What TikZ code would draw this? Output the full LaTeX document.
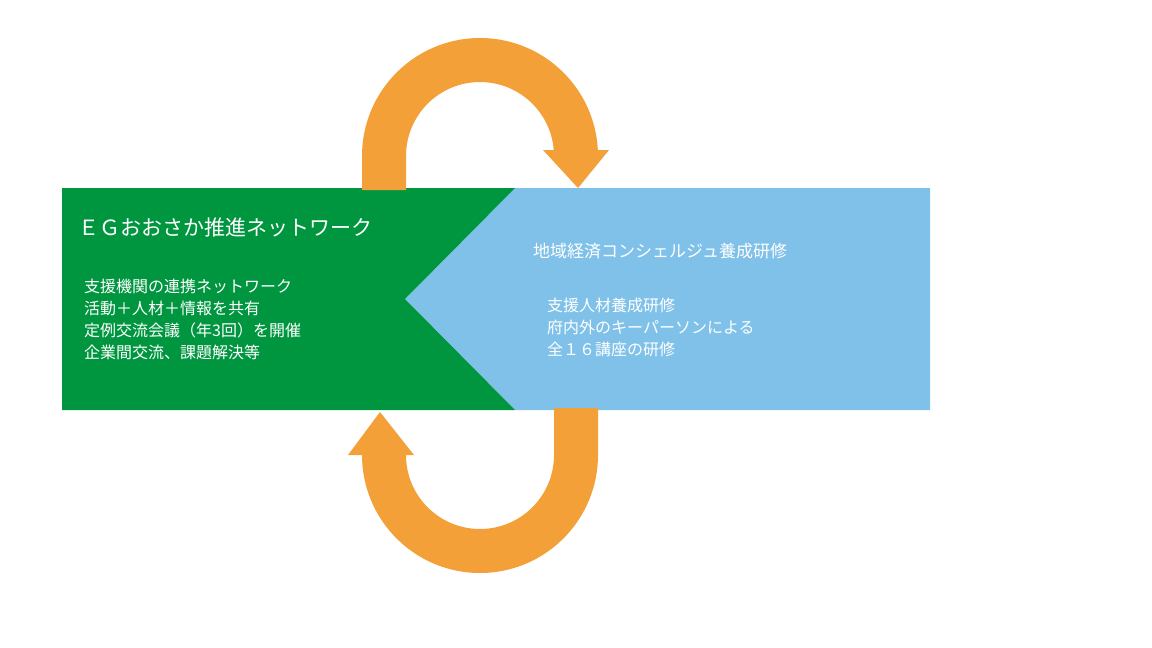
\documentclass[tikz,border=0pt]{standalone}
\usepackage{fontspec}
\newfontfamily\jp{Noto Sans CJK JP}
\begin{document}
\begin{tikzpicture}[x=1pt,y=-1pt,
  lbl/.style={anchor=west,inner sep=0pt,font=\jp,text=white,align=left},
  orng/.style={draw=orange!80!yellow,line width=44pt},
  hd/.style={fill=orange!80!yellow}]
\definecolor{gr}{RGB}{0,150,64}
\definecolor{bl}{RGB}{128,193,233}
\definecolor{og}{RGB}{244,160,56}
\useasboundingbox (0,0) rectangle (1152,648);
\fill[bl] (405,299) -- (515,188) -- (930,188) -- (930,410) -- (515,410) -- cycle;
\fill[gr] (62,188) -- (515,188) -- (405,299) -- (515,410) -- (62,410) -- cycle;
% top arrow
\draw[draw=og,line width=44pt] (384,190) -- (384,156) arc[start angle=180,end angle=360,radius=96] -- (576,152);
\fill[og] (543,150) -- (609,150) -- (578,188) -- cycle;
% bottom arrow
\draw[draw=og,line width=44pt] (576,408) -- (576,455) arc[start angle=0,end angle=180,radius=96] -- (384,458);
\fill[og] (348,455) -- (414,455) -- (380,412) -- cycle;
\node[lbl,font=\jp\fontsize{21}{24}\selectfont] (t1) at (78,227) {ＥＧおおさか推進ネットワーク};
\node[lbl,font=\jp\fontsize{16}{22}\selectfont] (b1) at (84,319) {支援機関の連携ネットワーク\\活動＋人材＋情報を共有\\定例交流会議（年3回）を開催\\企業間交流、課題解決等};
\node[lbl,font=\jp\fontsize{17}{22}\selectfont] (t2) at (533,251) {地域経済コンシェルジュ養成研修};
\node[lbl,font=\jp\fontsize{16}{22}\selectfont] (b2) at (547,327) {支援人材養成研修\\府内外のキーパーソンによる\\全１６講座の研修};
\end{tikzpicture}
\end{document}
